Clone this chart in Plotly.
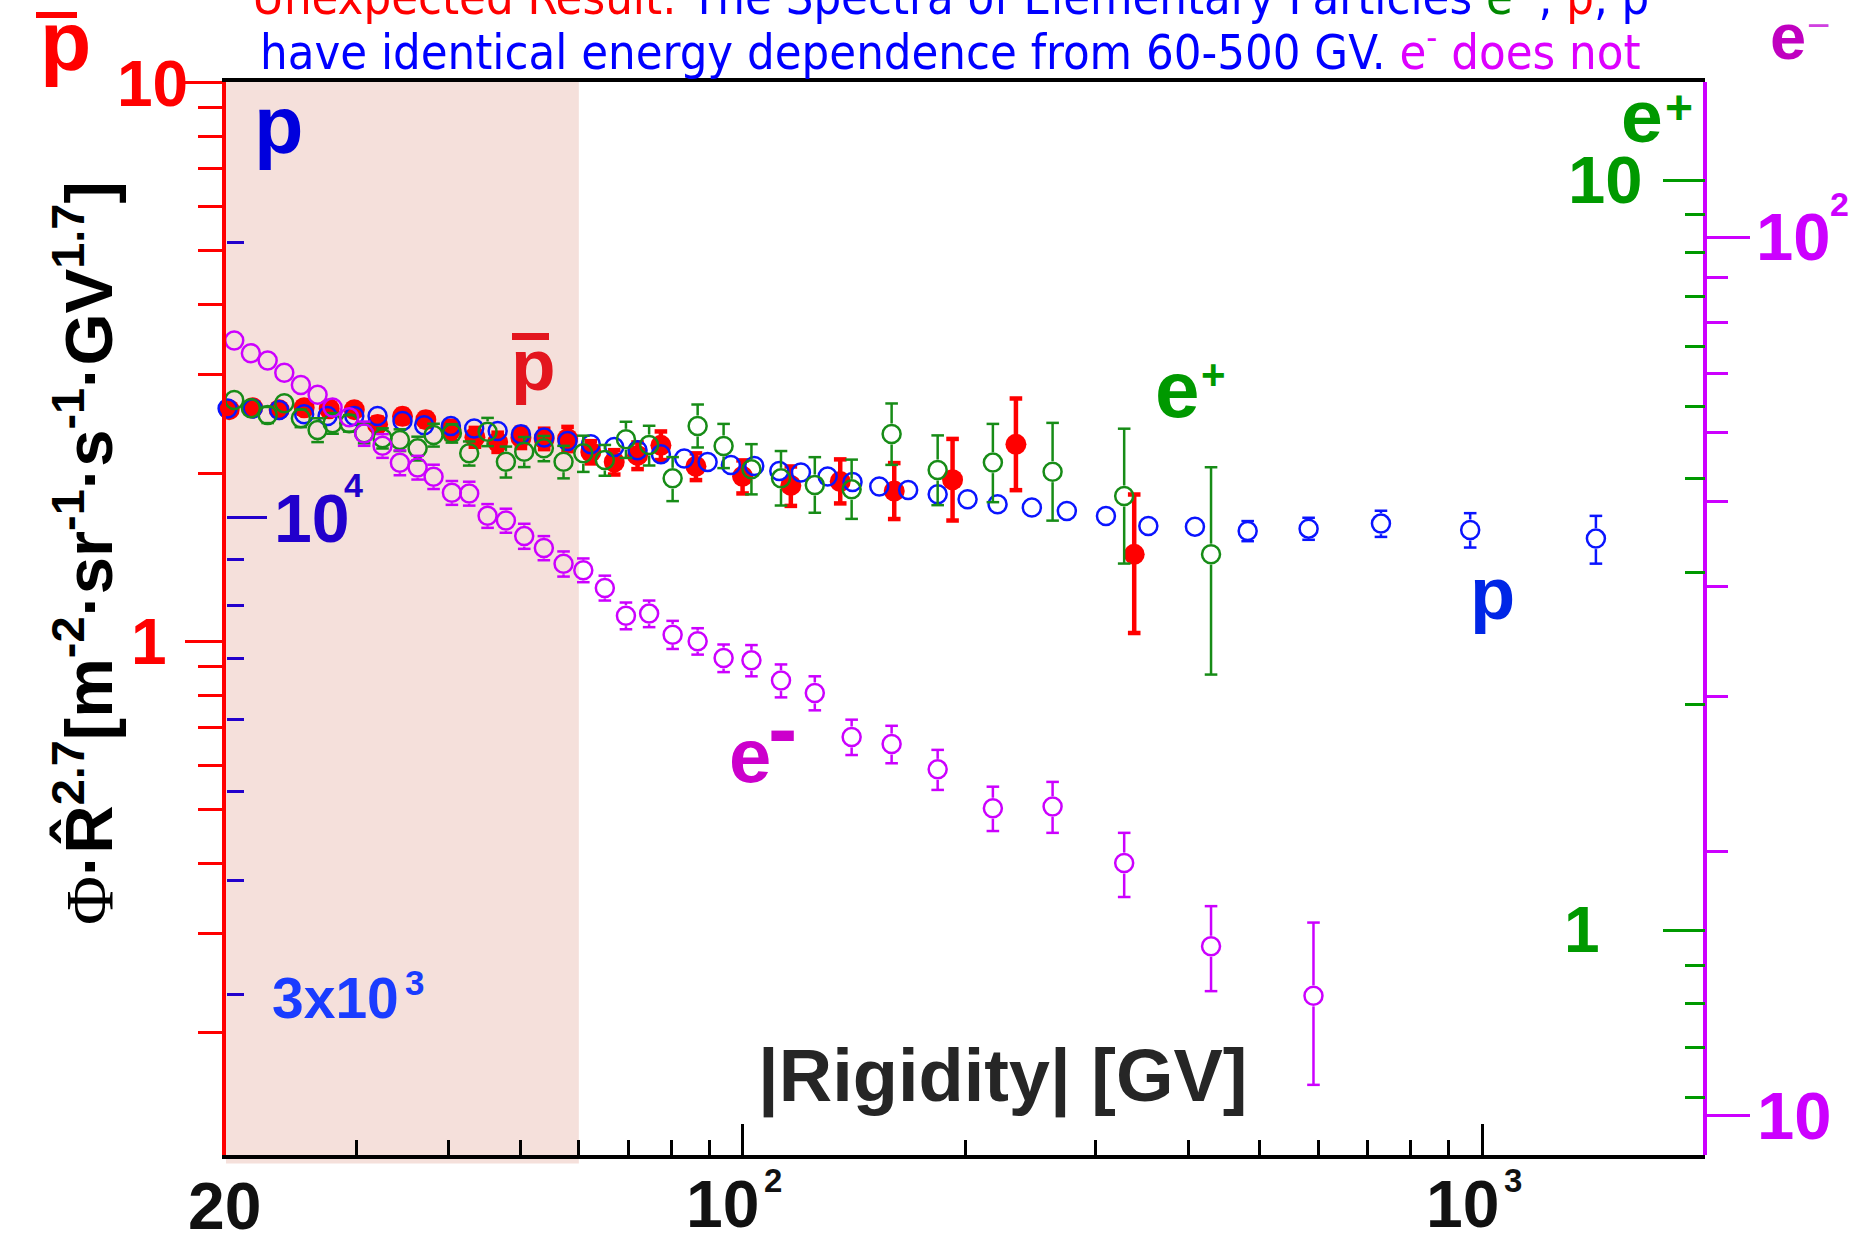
import math
import plotly.graph_objects as go

# ---------------- data ----------------
# protons (flux x R^2.7, blue scale)
proton_rigidity = [20.10, 21.73, 23.60, 25.51, 27.44, 29.82, 32.06, 34.65, 37.07, 40.28,
                   43.31, 46.60, 50.10, 53.86, 57.93, 62.28, 66.99, 72.04, 77.47, 83.30,
                   89.60, 96.33, 103.6, 112.0, 119.8, 130.2, 140.7, 152.9, 167.3, 183.4,
                   201.3, 221.0, 245.9, 274.2, 309.7, 353.4, 408.6, 481.5, 582.1, 729.2,
                   962.7, 1424.0]
proton_flux = [13157, 13157, 13108, 12969, 12912, 12912, 12912, 12752, 12613, 12591,
               12510, 12432, 12330, 12228, 12124, 12023, 11943, 11843, 11724, 11598,
               11498, 11411, 11384, 11241, 11196, 11084, 10931, 10806, 10713, 10598,
               10464, 10334, 10248, 10160, 10033, 9783, 9767, 9660, 9718, 9842,
               9685, 9476]
proton_err_up = [70, 70, 70, 70, 70, 70, 70, 70, 70, 70,
                 70, 70, 70, 70, 70, 70, 70, 70, 70, 70,
                 70, 70, 75, 75, 75, 80, 80, 80, 85, 90,
                 95, 100, 110, 120, 130, 150, 170, 245, 270, 325,
                 420, 560]
proton_err_down = [70, 70, 70, 70, 70, 70, 70, 70, 70, 70,
                   70, 70, 70, 70, 70, 70, 70, 70, 70, 70,
                   70, 70, 75, 75, 75, 80, 80, 80, 85, 90,
                   95, 100, 110, 120, 130, 150, 170, 245, 270, 325,
                   420, 580]

# antiprotons (red scale)
antiproton_rigidity = [20.20, 21.73, 23.60, 25.51, 27.58, 29.82, 32.06, 34.65, 37.26, 40.28,
                       43.41, 46.60, 50.10, 53.86, 57.93, 62.28, 66.99, 72.04, 77.47, 86.4,
                       99.9, 116.1, 135.4, 160.2, 192.1, 234.0, 338.2]
antiproton_flux = [2.597, 2.617, 2.597, 2.617, 2.607, 2.597, 2.444, 2.526, 2.492, 2.391,
                   2.319, 2.272, 2.314, 2.304, 2.304, 2.181, 2.093, 2.151, 2.242, 2.056,
                   1.973, 1.901, 1.932, 1.857, 1.946, 2.251, 1.431]
antiproton_err_up = [0.05, 0.05, 0.05, 0.05, 0.05, 0.05, 0.07, 0.07, 0.07, 0.09,
                     0.09, 0.09, 0.097, 0.097, 0.115, 0.10, 0.105, 0.118, 0.132, 0.113,
                     0.134, 0.154, 0.184, 0.227, 0.356, 0.468, 0.40]
antiproton_err_down = [0.05, 0.05, 0.05, 0.05, 0.05, 0.05, 0.07, 0.07, 0.07, 0.09,
                       0.09, 0.09, 0.097, 0.097, 0.115, 0.10, 0.105, 0.118, 0.132, 0.113,
                       0.134, 0.154, 0.167, 0.202, 0.301, 0.387, 0.396]

# leptons share the same rigidity bins
lepton_rigidity = [20.52, 21.61, 22.77, 23.98, 25.25, 26.60, 27.87, 29.35, 30.75, 32.56,
                   34.37, 36.32, 38.17, 40.41, 42.65, 45.16, 47.81, 50.62, 53.81, 57.21,
                   60.84, 65.06, 69.48, 74.68, 80.35, 86.86, 94.17, 102.7, 112.6, 125.1,
                   140.3, 158.9, 183.4, 217.8, 262.3, 327.8, 429.6, 591.0]

# electrons (purple scale)
electron_flux = [76.3, 73.8, 72.4, 70.1, 67.9, 66.2, 64.0, 62.4, 59.8, 57.9,
                 55.4, 54.7, 53.4, 51.2, 51.1, 48.2, 47.6, 45.7, 44.3, 42.5,
                 41.8, 39.9, 37.1, 37.3, 35.3, 34.7, 33.2, 33.0, 31.3, 30.3,
                 27.0, 26.5, 24.8, 22.4, 22.5, 19.4, 15.6, 13.7]
electron_err_up = [1.1, 1.1, 1.1, 1.1, 1.0, 1.0, 1.0, 1.0, 1.9, 1.8,
                   1.8, 1.7, 1.7, 1.6, 1.6, 1.5, 1.5, 1.5, 1.4, 1.4,
                   1.3, 1.3, 1.3, 1.3, 1.3, 1.2, 1.2, 1.35, 1.35, 1.35,
                   1.25, 1.3, 1.3, 1.3, 1.5, 1.6, 1.73, 2.9]
electron_err_down = [1.1, 1.1, 1.1, 1.1, 1.0, 1.0, 1.0, 1.0, 1.9, 1.8,
                     1.8, 1.7, 1.7, 1.6, 1.6, 1.5, 1.5, 1.5, 1.4, 1.4,
                     1.3, 1.3, 1.3, 1.3, 1.3, 1.2, 1.2, 1.35, 1.35, 1.35,
                     1.25, 1.3, 1.3, 1.3, 1.5, 1.65, 1.73, 2.85]

# positrons (green scale), first 37 lepton bins
positron_flux = [5.095, 4.966, 4.866, 5.044, 4.817, 4.647, 4.743, 4.743, 4.600, 4.530,
                 4.506, 4.392, 4.576, 4.600, 4.326, 4.622, 4.216, 4.347, 4.392, 4.216,
                 4.326, 4.238, 4.515, 4.437, 4.006, 4.704, 4.424, 4.119, 4.006, 3.925,
                 3.873, 4.590, 4.110, 4.204, 4.089, 3.795, 3.175]
positron_err_up = [0.08, 0.08, 0.12, 0.10, 0.13, 0.17, 0.15, 0.12, 0.14, 0.14,
                   0.15, 0.16, 0.16, 0.13, 0.16, 0.20, 0.20, 0.20, 0.17, 0.21,
                   0.24, 0.20, 0.25, 0.27, 0.27, 0.32, 0.31, 0.33, 0.35, 0.35,
                   0.37, 0.45, 0.46, 0.53, 0.66, 0.87, 0.97]
positron_err_down = [0.08, 0.08, 0.12, 0.10, 0.13, 0.17, 0.15, 0.12, 0.14, 0.14,
                     0.15, 0.16, 0.16, 0.13, 0.16, 0.20, 0.20, 0.20, 0.17, 0.21,
                     0.24, 0.20, 0.25, 0.27, 0.27, 0.30, 0.29, 0.305, 0.32, 0.32,
                     0.335, 0.415, 0.42, 0.48, 0.57, 0.71, 0.98]

# axis tick values
x_major = [100, 1000]
x_minor = [30, 40, 50, 60, 70, 80, 90, 200, 300, 400, 500, 600, 700, 800, 900]
red_major = [1, 10]
red_minor = [0.2, 0.3, 0.4, 0.5, 0.6, 0.7, 0.8, 0.9, 2, 3, 4, 5, 6, 7, 8, 9]
blue_major = [10000]
blue_minor = [3000, 4000, 5000, 6000, 7000, 8000, 9000, 20000]
green_major = [1, 10]
green_minor = [0.6, 0.7, 0.8, 0.9, 2, 3, 4, 5, 6, 7, 8, 9]
purple_major = [10, 100]
purple_minor = [20, 30, 40, 50, 60, 70, 80, 90]

# ---------------- geometry / styles ----------------
W, H = 1863, 1233
M_L, M_R, M_T, M_B = 226, 158, 82, 78
PLOT_W = W - M_L - M_R
PLOT_H = H - M_T - M_B

X_RANGE = [math.log10(20), math.log10(2000)]
RED_RANGE = [-0.9187, 1.0005]
BLUE_RANGE = [math.log10(2000), math.log10(30000)]
GREEN_RANGE = [-0.2983, 1.1305]
PURPLE_RANGE = [0.9556, 2.1767]

RED = "#ff0000"
BLUE = "#0a14ff"
BLUE_AX = "#2200cc"
GREEN = "#178c17"
GREEN_AX = "#009900"
PURPLE = "#cc00ff"
MAGENTA = "#cc00cc"

SANS = "Liberation Sans, Arial, Helvetica, sans-serif"
NARROW = "Liberation Sans Narrow, Arial Narrow, DejaVu Sans Condensed, sans-serif"

MARKER_SIZE = 18
MARKER_LW = 2.5
GAP_PX = 10.5


def px_x(X):
    return (X - M_L) / PLOT_W


def px_y(Y):
    return (M_T + PLOT_H - Y) / PLOT_H


def error_segments(xs, ys, up, dn, yrange, gap_px):
    """Vertical error bars that stop at the edge of an open marker."""
    pxdec = PLOT_H / (yrange[1] - yrange[0])
    g = 10 ** (gap_px / pxdec)
    gcap = 10 ** ((gap_px - 3) / pxdec)
    lx, ly, cx, cy = [], [], [], []
    for x, y, u, d in zip(xs, ys, up, dn):
        top, bot = y + u, y - d
        if top > y * g:
            lx += [x, x, None]
            ly += [y * g, top, None]
        if top > y * gcap:
            cx.append(x)
            cy.append(top)
        if bot < y / g:
            lx += [x, x, None]
            ly += [y / g, bot, None]
        if bot < y / gcap:
            cx.append(x)
            cy.append(bot)
    return lx, ly, cx, cy


fig = go.Figure()


def add_series(xs, ys, up, dn, yaxis, yrange, color, filled=False,
               bar_w=2.5, cap_w=2.5, cap_size=9):
    gap = 0 if filled else GAP_PX
    lx, ly, cx, cy = error_segments(xs, ys, up, dn, yrange, gap)
    fig.add_trace(go.Scatter(x=lx, y=ly, mode="lines", yaxis=yaxis,
                             line=dict(color=color, width=bar_w),
                             hoverinfo="skip", showlegend=False))
    fig.add_trace(go.Scatter(x=cx, y=cy, mode="markers", yaxis=yaxis,
                             marker=dict(symbol="line-ew", size=cap_size,
                                         line=dict(color=color, width=cap_w)),
                             cliponaxis=False, hoverinfo="skip", showlegend=False))
    if filled:
        marker = dict(symbol="circle", size=21, color=color, line=dict(width=0))
    else:
        marker = dict(symbol="circle-open", size=MARKER_SIZE, color=color,
                      line=dict(width=MARKER_LW))
    fig.add_trace(go.Scatter(x=xs, y=ys, mode="markers", yaxis=yaxis,
                             marker=marker, cliponaxis=False, showlegend=False))


add_series(proton_rigidity, proton_flux, proton_err_up, proton_err_down,
           "y2", BLUE_RANGE, BLUE)
add_series(lepton_rigidity[:len(positron_flux)], positron_flux, positron_err_up,
           positron_err_down, "y3", GREEN_RANGE, GREEN)
add_series(lepton_rigidity, electron_flux, electron_err_up, electron_err_down,
           "y4", PURPLE_RANGE, PURPLE)
add_series(antiproton_rigidity, antiproton_flux, antiproton_err_up, antiproton_err_down,
           "y", RED_RANGE, RED, filled=True, bar_w=4.5, cap_w=4.5, cap_size=9)


def log_axis(rng, color, major, minor, ticks, major_len, minor_len, **kw):
    d = dict(type="log", range=rng, autorange=False, showgrid=False, zeroline=False,
             showticklabels=False, ticks=ticks, tickmode="array", tickvals=major,
             ticklen=major_len, tickwidth=3, tickcolor=color,
             minor=dict(tickmode="array", tickvals=minor, ticks=ticks,
                        ticklen=minor_len, tickwidth=3, tickcolor=color, showgrid=False))
    d.update(kw)
    return d


layout_axes = dict(
    xaxis=log_axis(X_RANGE, "black", x_major, x_minor, "inside", 31, 15,
                   showline=True, linecolor="black", linewidth=4, mirror=True),
    yaxis=log_axis(RED_RANGE, RED, red_major, red_minor, "outside", 37, 24,
                   showline=True, linecolor=RED, linewidth=4, side="left"),
    yaxis2=log_axis(BLUE_RANGE, BLUE_AX, blue_major, blue_minor, "inside", 40, 17,
                    overlaying="y", anchor="free", position=0, side="left", showline=False),
    yaxis3=log_axis(GREEN_RANGE, GREEN_AX, green_major, green_minor, "inside", 42, 20,
                    overlaying="y", anchor="free", position=1, side="right", showline=False),
    yaxis4=log_axis(PURPLE_RANGE, PURPLE, purple_major, purple_minor, "outside", 43, 21,
                    overlaying="y", anchor="free", position=1, side="right",
                    showline=True, linecolor=PURPLE, linewidth=4),
)


def label(text, X, Y, size, color, family=SANS, weight="bold", xanchor="center", **kw):
    return dict(text=text, xref="paper", yref="paper", x=px_x(X), y=px_y(Y),
                xanchor=xanchor, yanchor="middle", showarrow=False,
                font=dict(family=family, size=size, color=color, weight=weight), **kw)


annotations = [
    # red (antiproton) scale
    label("10", 190, 84, 64, RED, xanchor="right"),
    label("1", 169, 642, 64, RED, xanchor="right"),
    # blue (proton) scale
    label("10", 272, 518, 68, BLUE_AX, xanchor="left"),
    label("4", 342, 485, 34, BLUE_AX, xanchor="left"),
    label("3x10", 270, 998, 57, "#1a3cff", xanchor="left"),
    label("3", 403, 982, 35, "#1a3cff", xanchor="left"),
    # green (positron) scale
    label("10", 1645, 179, 67, GREEN_AX, xanchor="right"),
    label("1", 1602, 930, 64, GREEN_AX, xanchor="right"),
    # purple (electron) scale
    label("10", 1754, 236, 67, PURPLE, xanchor="left"),
    label("2", 1828, 204, 34, PURPLE, xanchor="left"),
    label("10", 1755, 1115, 67, PURPLE, xanchor="left"),
    # rigidity scale
    label("20", 224, 1206, 66, "#111111"),
    label("10", 722, 1204, 66, "#111111"),
    label("2", 773, 1180, 33, "#111111"),
    label("10", 1462, 1204, 66, "#111111"),
    label("3", 1513, 1180, 33, "#111111"),
    # axis titles
    label("|Rigidity| [GV]", 1003, 1076, 74, "#262626"),
    label('<span style="font-family:Liberation Serif;font-weight:normal">\u03a6</span>'
          '\u00b7R\u0302<sup>2.7</sup>[m<sup>-2</sup>\u00b7sr<sup>-1</sup>\u00b7s<sup>-1</sup>'
          '\u00b7GV<sup>1.7</sup>]',
          84, 553, 67, "black", textangle=-90),
    # headline (first line runs off the top edge)
    label('<span style="color:#ff0000">Unexpected Result:</span>'
          '<span style="color:#0000ff"> The Spectra of Elementary Particles </span>'
          '<span style="color:#008800">e<sup>+</sup></span>'
          '<span style="color:#0000ff">, </span><span style="color:#ff0000">p\u0304</span>'
          '<span style="color:#0000ff">, p</span>',
          950, -6, 48.5, "#0000ff", family=NARROW, weight="normal"),
    label('<span style="color:#0000ff">have identical energy dependence from 60-500 GV.</span>'
          '<span style="color:#dd00ff"> e<sup>-</sup> does not</span>',
          950, 49, 48.5, "#0000ff", family=NARROW, weight="normal"),
    # particle tags
    label("p", 65, 41, 84, RED),
    label("p", 278, 125, 81, "#0000dd"),
    label("p", 533, 365, 73, "#e3161e"),
    label("e", 1642, 116, 75, GREEN_AX),
    label("+", 1679, 108, 48, GREEN_AX),
    label("e", 1177, 389, 80, GREEN_AX),
    label("+", 1213, 374, 42, GREEN_AX),
    label("e", 750, 755, 76, MAGENTA),
    label("-", 782, 727, 88, MAGENTA),
    label("e", 1788, 36, 65, "#c000c0"),
    label("\u2212", 1818, 25, 40, "#d040e0", weight="normal"),
    label("p", 1492, 593, 74, "#0026e6"),
]


def px_rect(X0, X1, Y0, Y1, color, layer="above"):
    return dict(type="rect", xref="paper", yref="paper",
                x0=px_x(X0), x1=px_x(X1), y0=px_y(Y1), y1=px_y(Y0),
                fillcolor=color, line=dict(width=0), layer=layer)


shapes = [
    # 20-60 GV band
    dict(type="rect", xref="x", yref="paper", x0=20, x1=60, y0=-0.008, y1=1,
         fillcolor="#f5e0db", line=dict(width=0), layer="below"),
    # bars over the antiproton tags
    px_rect(36, 77, 12, 18, RED),
    px_rect(512, 549, 333, 340, "#e3161e"),
]

fig.update_layout(
    width=W, height=H,
    margin=dict(l=M_L, r=M_R, t=M_T, b=M_B, pad=0),
    paper_bgcolor="white", plot_bgcolor="white",
    showlegend=False,
    annotations=annotations,
    shapes=shapes,
    **layout_axes,
)

fig.write_html("out.html", config={"displayModeBar": False})
